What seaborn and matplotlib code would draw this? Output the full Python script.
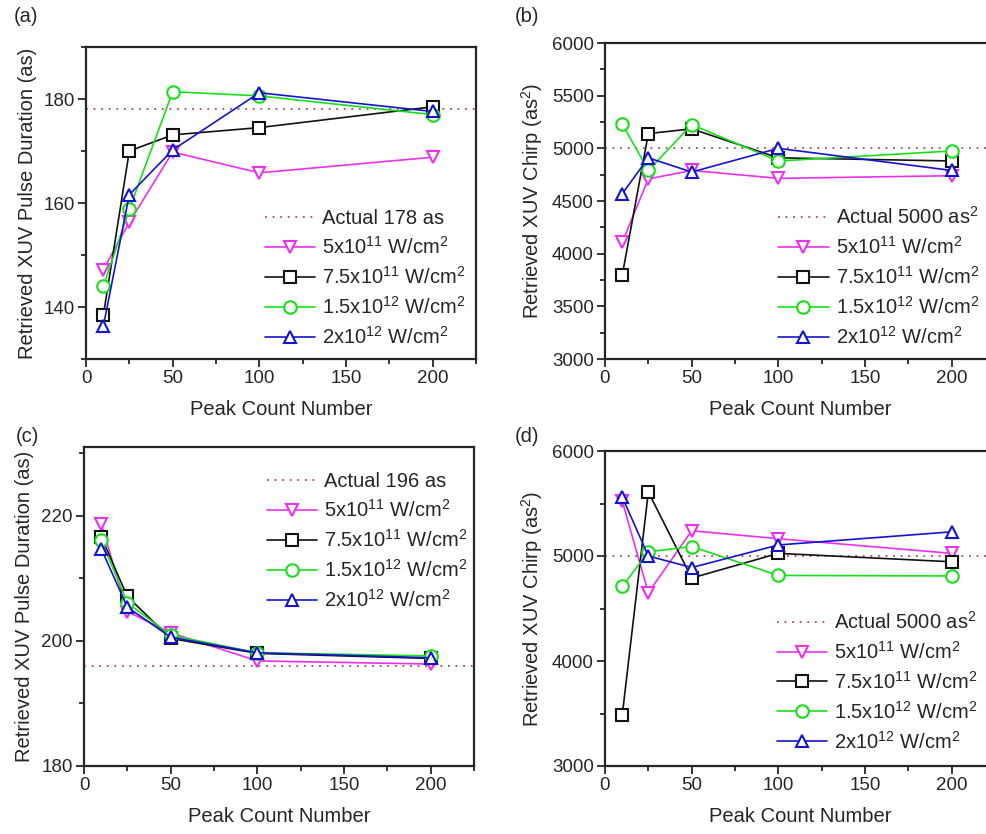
import numpy as np
import pandas as pd
import matplotlib
matplotlib.use("Agg")
import matplotlib.pyplot as plt
from matplotlib.ticker import MultipleLocator, FixedLocator
import seaborn as sns

sns.set_style("ticks")
plt.rcParams['font.family'] = ['Liberation Sans', 'DejaVu Sans']
plt.rcParams['mathtext.default'] = 'regular'

# ---------------- data ----------------
peaks = [10, 25, 50, 100, 200]
series_labels = [r"5x10$^{11}$ W/cm$^2$", r"7.5x10$^{11}$ W/cm$^2$",
                 r"1.5x10$^{12}$ W/cm$^2$", r"2x10$^{12}$ W/cm$^2$"]

# (a) pulse duration, actual 178 as
a_5e11 = [147.2, 156.3, 169.8, 165.8, 168.8]
a_75e11 = [138.4, 170.0, 173.1, 174.5, 178.5]
a_15e12 = [144.0, 158.8, 181.4, 180.6, 177.0]
a_2e12 = [136.3, 161.6, 170.2, 181.2, 177.6]
a_actual = 178

# (b) chirp, actual 5000 as^2
b_5e11 = [4110, 4710, 4790, 4715, 4740]
b_75e11 = [3800, 5140, 5185, 4910, 4880]
b_15e12 = [5230, 4790, 5225, 4880, 4975]
b_2e12 = [4570, 4910, 4775, 5000, 4790]
b_actual = 5000

# (c) pulse duration, actual 196 as
c_5e11 = [218.7, 204.7, 201.3, 196.8, 196.3]
c_75e11 = [216.6, 207.1, 200.4, 198.0, 197.2]
c_15e12 = [216.1, 206.1, 200.9, 198.1, 197.6]
c_2e12 = [214.7, 205.4, 200.6, 198.1, 197.3]
c_actual = 196

# (d) chirp, actual 5000 as^2
d_5e11 = [5520, 4650, 5240, 5165, 5025]
d_75e11 = [3490, 5610, 4790, 5025, 4945]
d_15e12 = [4710, 5040, 5090, 4815, 4810]
d_2e12 = [5560, 5000, 4890, 5105, 5230]
d_actual = 5000

colors = ['#EC30EC', '#111111', '#18E018', '#1414D0']
markers = ['v', 's', 'o', '^']
ref_color = '#B04858'

fig = plt.figure(figsize=(9.86, 8.34), dpi=100)

W = 390 / 986
panels = [
    dict(pos=[86/986, 1-359/834, W, 312/834], data=[a_5e11, a_75e11, a_15e12, a_2e12],
         actual=a_actual, actual_label="Actual 178 as", ylim=(130, 190), major=[140, 160, 180], minor=10,
         ylabel="Retrieved XUV Pulse Duration (as)", tag="(a)", tagxy=(14, 16),
         leg=(0.459, 0.48)),
    dict(pos=[605/986, 1-359/834, W, 316/834], data=[b_5e11, b_75e11, b_15e12, b_2e12],
         actual=b_actual, actual_label=r"Actual 5000 as$^2$", ylim=(3000, 6000),
         major=list(range(3000, 6001, 500)), minor=250,
         ylabel=r"Retrieved XUV Chirp (as$^2$)", tag="(b)", tagxy=(515, 16),
         leg=(0.444, 0.484)),
    dict(pos=[84/986, 1-766/834, W, 319/834], data=[c_5e11, c_75e11, c_15e12, c_2e12],
         actual=c_actual, actual_label="Actual 196 as", ylim=(180, 231), major=[180, 200, 220], minor=10,
         ylabel="Retrieved XUV Pulse Duration (as)", tag="(c)", tagxy=(16, 437),
         leg=(0.469, 0.922)),
    dict(pos=[605/986, 1-766/834, W, 315/834], data=[d_5e11, d_75e11, d_15e12, d_2e12],
         actual=d_actual, actual_label=r"Actual 5000 as$^2$", ylim=(3000, 6000),
         major=[3000, 4000, 5000, 6000], minor=500,
         ylabel=r"Retrieved XUV Chirp (as$^2$)", tag="(d)", tagxy=(515, 437),
         leg=(0.441, 0.493)),
]

TFS = 13.5
LFS = 14.5
GFS = 14.5
for p in panels:
    ax = fig.add_axes(p['pos'])
    ref = ax.axhline(p['actual'], color=ref_color, linestyle=(0, (1, 3.2)), linewidth=1.3,
                     label=p['actual_label'], zorder=1)
    handles = [ref]
    for vals, lab, c, m in zip(p['data'], series_labels, colors, markers):
        df = pd.DataFrame({'x': peaks, 'y': vals})
        sns.lineplot(data=df, x='x', y='y', ax=ax, color=c, marker=m, markersize=9,
                     markerfacecolor='white', markeredgecolor=c, markeredgewidth=1.5,
                     linewidth=1.2, estimator=None, sort=False, label=lab, zorder=3)
        handles.append(ax.get_lines()[-1])
    ax.set_xlim(0, 225)
    ax.set_ylim(*p['ylim'])
    ax.xaxis.set_major_locator(FixedLocator([0, 50, 100, 150, 200]))
    ax.xaxis.set_minor_locator(MultipleLocator(25))
    ax.yaxis.set_major_locator(FixedLocator(p['major']))
    ax.yaxis.set_minor_locator(MultipleLocator(p['minor']))
    ax.tick_params(axis='both', which='major', direction='out', length=6, width=1.3,
                   labelsize=TFS, pad=2, top=False, right=False)
    ax.tick_params(axis='both', which='minor', direction='out', length=3.5, width=1.3,
                   top=False, right=False)
    for s in ax.spines.values():
        s.set_linewidth(1.6)
        s.set_visible(True)
    ax.set_xlabel("Peak Count Number", fontsize=LFS, labelpad=9)
    ax.set_ylabel(p['ylabel'], fontsize=LFS, labelpad=5)
    labels = [p['actual_label']] + series_labels
    ax.legend(handles, labels, loc='upper left', bbox_to_anchor=p['leg'], frameon=False,
              fontsize=GFS, handlelength=2.5, handletextpad=0.35, labelspacing=0.4,
              borderpad=0, borderaxespad=0)
    fig.text(p['tagxy'][0]/986, 1 - p['tagxy'][1]/834, p['tag'], fontsize=LFS,
             ha='left', va='center')

fig.savefig("out.png", dpi=100)
